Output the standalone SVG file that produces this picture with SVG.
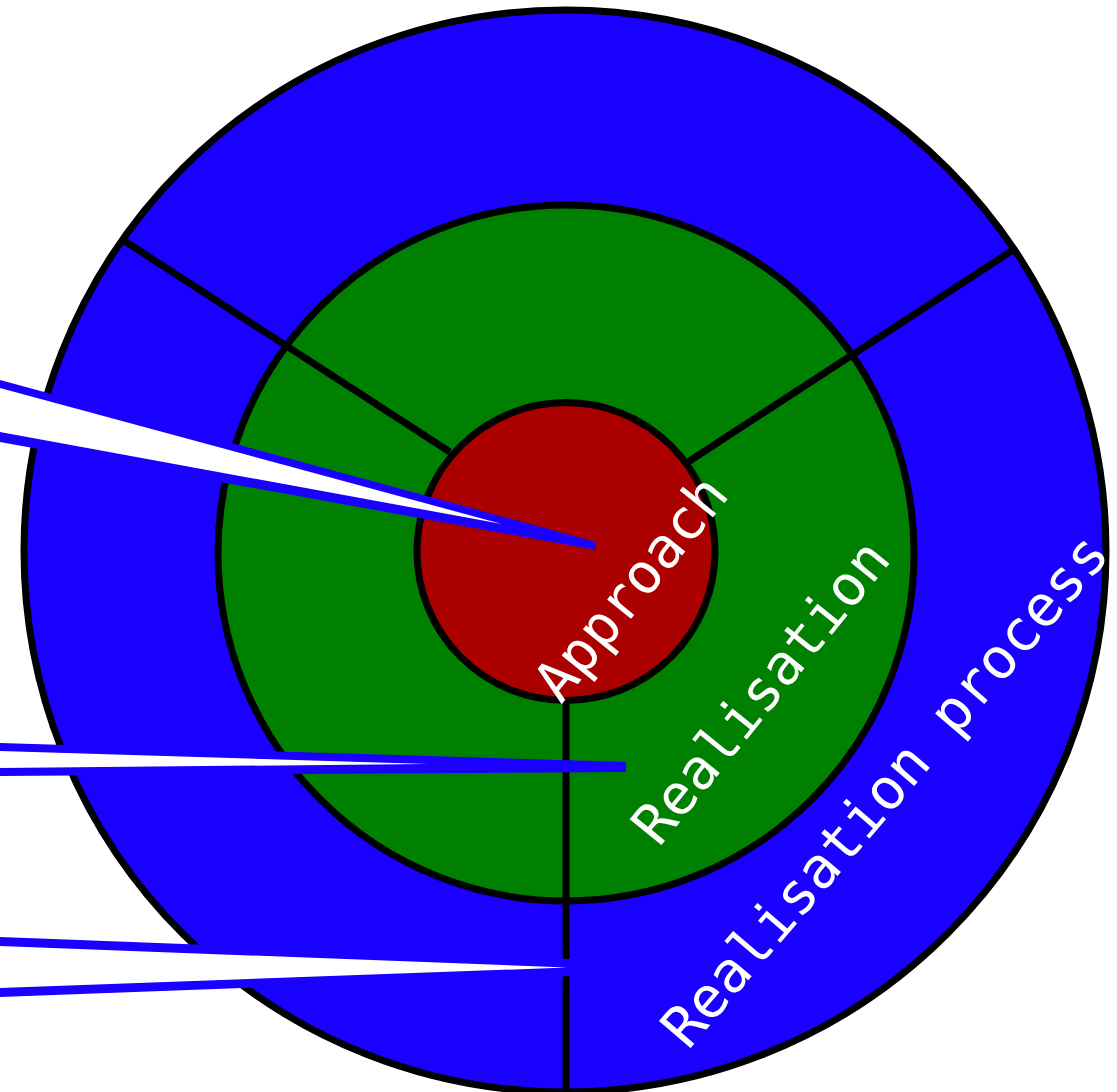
<svg xmlns="http://www.w3.org/2000/svg" width="1117" height="1092" viewBox="0 0 1117 1092">
<style>
.ring{stroke:#000;stroke-width:7}
.spoke{stroke:#000;stroke-width:7;fill:none}
.lbl{font-family:"DejaVu Sans Mono",monospace;font-size:56px;fill:#fff}
.co-out{fill:#1900ff}
.co-in{fill:#fff}
</style>
<rect width="1117" height="1092" fill="#fff"/>
<g id="realisation-process">
<circle class="ring" cx="565" cy="551" r="541" fill="#1900ff"/>
</g>
<g id="realisation">
<circle class="ring" cx="566" cy="553" r="348" fill="#008000"/>
</g>
<g id="approach">
<circle class="ring" cx="566" cy="551.5" r="149" fill="#aa0000"/>
</g>
<g id="connectors">
<line class="spoke" x1="123" y1="240" x2="450" y2="452"/>
<line class="spoke" x1="1013" y1="250" x2="688" y2="462"/>
<line class="spoke" x1="566" y1="700" x2="566" y2="1095"/>
<g id="callout-1"><polygon class="co-out" points="-20,374.6 596,542 596,550 -20,438.4"/><polygon class="co-in" points="-20,382.6 502,524 -20,428.3"/></g>
<g id="callout-2"><polygon class="co-out" points="-20,742.4 626,762 626,772 -20,776.1"/><polygon class="co-in" points="-20,750.4 428,764 -20,768.2"/></g>
<g id="callout-3"><polygon class="co-out" points="-20,936.2 572,959 572,976 -20,997.7"/><polygon class="co-in" points="-20,945.2 567,967.5 -20,988.7"/></g>
</g>
<g id="labels">
<text class="lbl" transform="translate(561,705) rotate(-51)">Approach</text>
<text class="lbl" transform="translate(659,848) rotate(-51)">Realisation</text>
<text class="lbl" style="font-size:57px" transform="translate(688,1051) rotate(-49.5)">Realisation process</text>
</g>
</svg>
